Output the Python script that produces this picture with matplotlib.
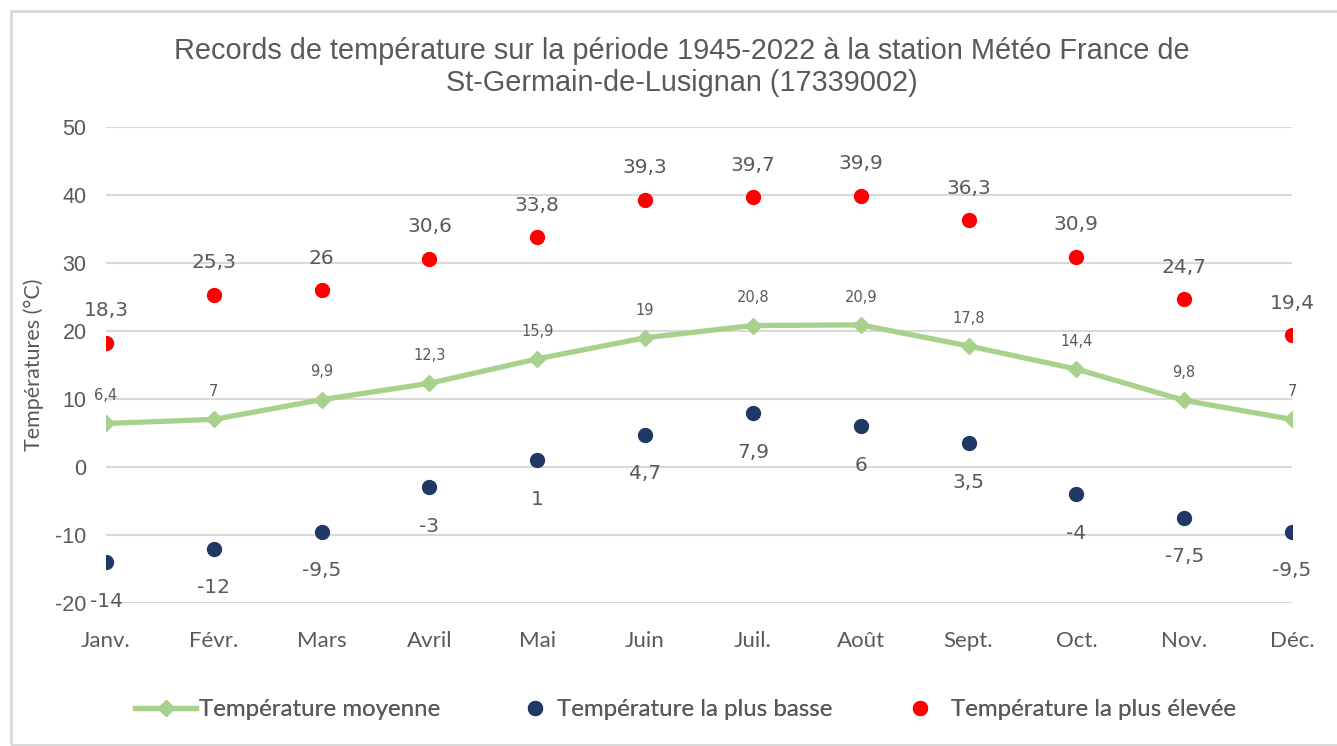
import matplotlib.pyplot as plt
from matplotlib.patches import Rectangle
from matplotlib.lines import Line2D

months = ["Janv.", "Févr.", "Mars", "Avril", "Mai", "Juin",
          "Juil.", "Août", "Sept.", "Oct.", "Nov.", "Déc."]
t_moyenne = [6.4, 7, 9.9, 12.3, 15.9, 19, 20.8, 20.9, 17.8, 14.4, 9.8, 7]
t_basse = [-14, -12, -9.5, -3, 1, 4.7, 7.9, 6, 3.5, -4, -7.5, -9.5]
t_haute = [18.3, 25.3, 26, 30.6, 33.8, 39.3, 39.7, 39.9, 36.3, 30.9, 24.7, 19.4]

GREY = "#595959"
GREEN = "#A9D18E"
NAVY = "#203864"
RED = "#FF0000"
SOFT = ['Lato', 'DejaVu Sans']
LBL = ['DejaVu Sans']


def fr(v):
    # French decimal comma
    return ("%g" % v).replace(".", ",")


def main():
    plt.rcParams['font.family'] = ['Liberation Sans', 'DejaVu Sans']
    plt.rcParams['axes.unicode_minus'] = False
    fig = plt.figure(figsize=(13.37, 7.46), dpi=100)
    ax = fig.add_axes([0.0793, 0.1917, 0.887, 0.6381])

    # outer chart frame
    fig.patches.append(Rectangle((11 / 1337, 1 / 746), 1.2, 734 / 746,
                                 transform=fig.transFigure, fill=False,
                                 edgecolor="#D9D9D9", linewidth=2))

    x = list(range(len(months)))
    ax.plot(x, t_moyenne, color=GREEN, linewidth=3.8, marker="D",
            markersize=8, zorder=3)
    ax.plot(x, t_basse, linestyle="none", marker="o", color=NAVY,
            markersize=10, zorder=3)
    ax.plot(x, t_haute, linestyle="none", marker="o", color=RED,
            markersize=10, zorder=3)

    for i in x:
        ax.annotate(fr(t_moyenne[i]), (i, t_moyenne[i]), xytext=(0, 20),
                    textcoords="offset points", ha="center", va="center",
                    fontsize=10.5, color=GREY, family=LBL)
        ax.annotate(fr(t_haute[i]), (i, t_haute[i]), xytext=(0, 23),
                    textcoords="offset points", ha="center", va="center",
                    fontsize=14.5, color=GREY, family=LBL)
        ax.annotate(fr(t_basse[i]), (i, t_basse[i]), xytext=(0, -28),
                    textcoords="offset points", ha="center", va="center",
                    fontsize=14.5, color=GREY, family=LBL)

    ax.set_xlim(0, len(months) - 1)
    ax.set_ylim(-20, 50)
    ax.set_yticks(range(-20, 51, 10))
    ax.set_xticks(x)
    ax.set_xticklabels(months, family=SOFT)
    ax.grid(axis="y", color="#D9D9D9", linewidth=1.5)
    ax.set_axisbelow(True)
    for s in ax.spines.values():
        s.set_visible(False)
    ax.tick_params(length=0, labelsize=15.5, labelcolor=GREY)
    ax.tick_params(axis="x", pad=20, labelsize=16)
    ax.tick_params(axis="y", pad=14)
    ax.set_ylabel("Températures (°C)", fontsize=15.5, color=GREY,
                  labelpad=8, family=SOFT)

    fig.text(0.51, 0.91,
             "Records de température sur la période 1945-2022 à la station Météo France de\n"
             "St-Germain-de-Lusignan (17339002)",
             ha="center", va="center", fontsize=20.8, color=GREY, linespacing=1.2)

    # three separate legend entries, each placed on its own
    entries = [
        (Line2D([], [], color=GREEN, linewidth=3.8, marker="D", markersize=8),
         "Température moyenne", 135, 2.55, 0.1),
        (Line2D([], [], linestyle="none", marker="o", color=NAVY, markersize=10),
         "Température la plus basse", 523, 1.0, 0.42),
        (Line2D([], [], linestyle="none", marker="o", color=RED, markersize=10),
         "Température la plus élevée", 908, 1.0, 0.77),
    ]
    for handle, label, left, hlen, tpad in entries:
        leg = fig.legend([handle], [label], loc="center left",
                         bbox_to_anchor=(left / 1337, 1 - 710 / 746),
                         frameon=False, labelcolor=GREY, borderpad=0,
                         borderaxespad=0, prop={'family': SOFT, 'size': 17.3},
                         handlelength=hlen, handletextpad=tpad)
        fig.add_artist(leg)

    fig.savefig("out.png", dpi=100)


if __name__ == "__main__":
    main()
